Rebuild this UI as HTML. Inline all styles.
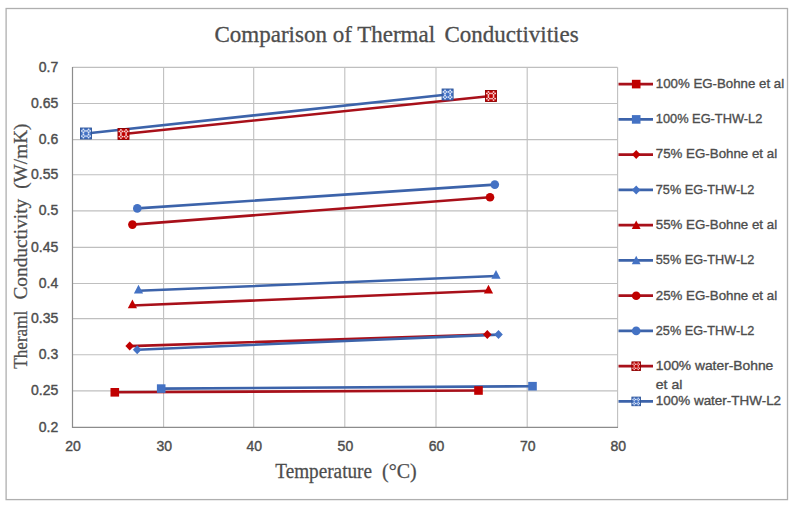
<!DOCTYPE html>
<html><head><meta charset="utf-8"><style>
html,body{margin:0;padding:0;background:#fff;width:797px;height:508px;overflow:hidden;position:relative}
</style></head><body>
<svg width="797" height="508" viewBox="0 0 797 508" style="position:absolute;left:0;top:0">
<rect x="6.1" y="8.5" width="781.4" height="491.1" fill="none" stroke="#AFAFAF" stroke-width="1.3"/>
<line x1="72.5" y1="67.40" x2="617.5" y2="67.40" stroke="#BFBFBF" stroke-width="1.1"/>
<line x1="72.5" y1="103.50" x2="617.5" y2="103.50" stroke="#BFBFBF" stroke-width="1.1"/>
<line x1="72.5" y1="139.60" x2="617.5" y2="139.60" stroke="#BFBFBF" stroke-width="1.1"/>
<line x1="72.5" y1="174.80" x2="617.5" y2="174.80" stroke="#BFBFBF" stroke-width="1.1"/>
<line x1="72.5" y1="210.90" x2="617.5" y2="210.90" stroke="#BFBFBF" stroke-width="1.1"/>
<line x1="72.5" y1="247.40" x2="617.5" y2="247.40" stroke="#BFBFBF" stroke-width="1.1"/>
<line x1="72.5" y1="283.50" x2="617.5" y2="283.50" stroke="#BFBFBF" stroke-width="1.1"/>
<line x1="72.5" y1="318.60" x2="617.5" y2="318.60" stroke="#BFBFBF" stroke-width="1.1"/>
<line x1="72.5" y1="354.70" x2="617.5" y2="354.70" stroke="#BFBFBF" stroke-width="1.1"/>
<line x1="72.5" y1="390.90" x2="617.5" y2="390.90" stroke="#BFBFBF" stroke-width="1.1"/>
<line x1="163.6" y1="67.3" x2="163.6" y2="427.4" stroke="#BFBFBF" stroke-width="1.1"/>
<line x1="253.7" y1="67.3" x2="253.7" y2="427.4" stroke="#BFBFBF" stroke-width="1.1"/>
<line x1="344.8" y1="67.3" x2="344.8" y2="427.4" stroke="#BFBFBF" stroke-width="1.1"/>
<line x1="436" y1="67.3" x2="436" y2="427.4" stroke="#BFBFBF" stroke-width="1.1"/>
<line x1="527.2" y1="67.3" x2="527.2" y2="427.4" stroke="#BFBFBF" stroke-width="1.1"/>
<line x1="617.6" y1="67.3" x2="617.6" y2="427.4" stroke="#BFBFBF" stroke-width="1.1"/>
<line x1="72.5" y1="67" x2="72.5" y2="428" stroke="#8C8C8C" stroke-width="1.2"/>
<line x1="72" y1="427.4" x2="618" y2="427.4" stroke="#8C8C8C" stroke-width="1.2"/>
<line x1="114.8" y1="392.3" x2="478.5" y2="390.5" stroke="#A8101A" stroke-width="2.6" stroke-linecap="round"/>
<line x1="161.2" y1="388.6" x2="532.5" y2="386.2" stroke="#3C63AA" stroke-width="2.6" stroke-linecap="round"/>
<line x1="129.7" y1="346.1" x2="487.3" y2="334.6" stroke="#A8101A" stroke-width="2.6" stroke-linecap="round"/>
<line x1="137.2" y1="349.7" x2="498.5" y2="334.6" stroke="#3C63AA" stroke-width="2.6" stroke-linecap="round"/>
<line x1="132.4" y1="305.5" x2="488.5" y2="290.8" stroke="#A8101A" stroke-width="2.6" stroke-linecap="round"/>
<line x1="138.5" y1="290.8" x2="496" y2="276" stroke="#3C63AA" stroke-width="2.6" stroke-linecap="round"/>
<line x1="132.4" y1="224.6" x2="490" y2="197.2" stroke="#A8101A" stroke-width="2.6" stroke-linecap="round"/>
<line x1="137.3" y1="208.4" x2="494.8" y2="184.6" stroke="#3C63AA" stroke-width="2.6" stroke-linecap="round"/>
<line x1="123.5" y1="134" x2="491" y2="96" stroke="#A8101A" stroke-width="2.6" stroke-linecap="round"/>
<line x1="86" y1="133.5" x2="447.6" y2="94.5" stroke="#3C63AA" stroke-width="2.6" stroke-linecap="round"/>
<rect x="110.5" y="388.0" width="8.6" height="8.6" fill="#C00000"/>
<rect x="474.2" y="386.2" width="8.6" height="8.6" fill="#C00000"/>
<rect x="156.9" y="384.3" width="8.6" height="8.6" fill="#4472C4"/>
<rect x="528.2" y="381.9" width="8.6" height="8.6" fill="#4472C4"/>
<polygon points="129.7,341.6 134.0,346.1 129.7,350.6 125.4,346.1" fill="#C00000"/>
<polygon points="487.3,330.1 491.6,334.6 487.3,339.1 483.0,334.6" fill="#C00000"/>
<polygon points="137.2,345.2 141.5,349.7 137.2,354.2 132.9,349.7" fill="#4472C4"/>
<polygon points="498.5,330.1 502.8,334.6 498.5,339.1 494.2,334.6" fill="#4472C4"/>
<polygon points="132.4,299.5 137.0,308.3 127.8,308.3" fill="#C00000"/>
<polygon points="488.5,284.8 493.1,293.6 483.9,293.6" fill="#C00000"/>
<polygon points="138.5,284.8 143.1,293.6 133.9,293.6" fill="#4472C4"/>
<polygon points="496.0,270.0 500.6,278.8 491.4,278.8" fill="#4472C4"/>
<circle cx="132.4" cy="224.6" r="4.3" fill="#C00000"/>
<circle cx="490.0" cy="197.2" r="4.3" fill="#C00000"/>
<circle cx="137.3" cy="208.4" r="4.3" fill="#4472C4"/>
<circle cx="494.8" cy="184.6" r="4.3" fill="#4472C4"/>
<rect x="118.0" y="128.5" width="11" height="11" fill="#C00000" stroke="#8E0000" stroke-width="0.9"/><circle cx="122.46" cy="131.41" r="0.94" fill="#F6D2D2"/><circle cx="119.38" cy="131.41" r="0.94" fill="#F6D2D2"/><circle cx="120.92" cy="132.95" r="0.94" fill="#F6D2D2"/><circle cx="120.92" cy="129.88" r="0.94" fill="#F6D2D2"/><circle cx="122.46" cy="136.59" r="0.94" fill="#F6D2D2"/><circle cx="119.38" cy="136.59" r="0.94" fill="#F6D2D2"/><circle cx="120.92" cy="138.12" r="0.94" fill="#F6D2D2"/><circle cx="120.92" cy="135.05" r="0.94" fill="#F6D2D2"/><circle cx="127.62" cy="131.41" r="0.94" fill="#F6D2D2"/><circle cx="124.54" cy="131.41" r="0.94" fill="#F6D2D2"/><circle cx="126.08" cy="132.95" r="0.94" fill="#F6D2D2"/><circle cx="126.08" cy="129.88" r="0.94" fill="#F6D2D2"/><circle cx="127.62" cy="136.59" r="0.94" fill="#F6D2D2"/><circle cx="124.54" cy="136.59" r="0.94" fill="#F6D2D2"/><circle cx="126.08" cy="138.12" r="0.94" fill="#F6D2D2"/><circle cx="126.08" cy="135.05" r="0.94" fill="#F6D2D2"/>
<rect x="485.5" y="90.5" width="11" height="11" fill="#C00000" stroke="#8E0000" stroke-width="0.9"/><circle cx="489.96" cy="93.42" r="0.94" fill="#F6D2D2"/><circle cx="486.88" cy="93.42" r="0.94" fill="#F6D2D2"/><circle cx="488.42" cy="94.96" r="0.94" fill="#F6D2D2"/><circle cx="488.42" cy="91.88" r="0.94" fill="#F6D2D2"/><circle cx="489.96" cy="98.58" r="0.94" fill="#F6D2D2"/><circle cx="486.88" cy="98.58" r="0.94" fill="#F6D2D2"/><circle cx="488.42" cy="100.12" r="0.94" fill="#F6D2D2"/><circle cx="488.42" cy="97.04" r="0.94" fill="#F6D2D2"/><circle cx="495.12" cy="93.42" r="0.94" fill="#F6D2D2"/><circle cx="492.04" cy="93.42" r="0.94" fill="#F6D2D2"/><circle cx="493.58" cy="94.96" r="0.94" fill="#F6D2D2"/><circle cx="493.58" cy="91.88" r="0.94" fill="#F6D2D2"/><circle cx="495.12" cy="98.58" r="0.94" fill="#F6D2D2"/><circle cx="492.04" cy="98.58" r="0.94" fill="#F6D2D2"/><circle cx="493.58" cy="100.12" r="0.94" fill="#F6D2D2"/><circle cx="493.58" cy="97.04" r="0.94" fill="#F6D2D2"/>
<rect x="80.5" y="128.0" width="11" height="11" fill="#4472C4" stroke="#2F5597" stroke-width="0.9"/><circle cx="84.96" cy="130.91" r="0.94" fill="#DCE6F6"/><circle cx="81.88" cy="130.91" r="0.94" fill="#DCE6F6"/><circle cx="83.42" cy="132.45" r="0.94" fill="#DCE6F6"/><circle cx="83.42" cy="129.38" r="0.94" fill="#DCE6F6"/><circle cx="84.96" cy="136.09" r="0.94" fill="#DCE6F6"/><circle cx="81.88" cy="136.09" r="0.94" fill="#DCE6F6"/><circle cx="83.42" cy="137.62" r="0.94" fill="#DCE6F6"/><circle cx="83.42" cy="134.55" r="0.94" fill="#DCE6F6"/><circle cx="90.12" cy="130.91" r="0.94" fill="#DCE6F6"/><circle cx="87.04" cy="130.91" r="0.94" fill="#DCE6F6"/><circle cx="88.58" cy="132.45" r="0.94" fill="#DCE6F6"/><circle cx="88.58" cy="129.38" r="0.94" fill="#DCE6F6"/><circle cx="90.12" cy="136.09" r="0.94" fill="#DCE6F6"/><circle cx="87.04" cy="136.09" r="0.94" fill="#DCE6F6"/><circle cx="88.58" cy="137.62" r="0.94" fill="#DCE6F6"/><circle cx="88.58" cy="134.55" r="0.94" fill="#DCE6F6"/>
<rect x="442.1" y="89.0" width="11" height="11" fill="#4472C4" stroke="#2F5597" stroke-width="0.9"/><circle cx="446.56" cy="91.92" r="0.94" fill="#DCE6F6"/><circle cx="443.48" cy="91.92" r="0.94" fill="#DCE6F6"/><circle cx="445.02" cy="93.46" r="0.94" fill="#DCE6F6"/><circle cx="445.02" cy="90.38" r="0.94" fill="#DCE6F6"/><circle cx="446.56" cy="97.08" r="0.94" fill="#DCE6F6"/><circle cx="443.48" cy="97.08" r="0.94" fill="#DCE6F6"/><circle cx="445.02" cy="98.62" r="0.94" fill="#DCE6F6"/><circle cx="445.02" cy="95.54" r="0.94" fill="#DCE6F6"/><circle cx="451.73" cy="91.92" r="0.94" fill="#DCE6F6"/><circle cx="448.64" cy="91.92" r="0.94" fill="#DCE6F6"/><circle cx="450.19" cy="93.46" r="0.94" fill="#DCE6F6"/><circle cx="450.19" cy="90.38" r="0.94" fill="#DCE6F6"/><circle cx="451.73" cy="97.08" r="0.94" fill="#DCE6F6"/><circle cx="448.64" cy="97.08" r="0.94" fill="#DCE6F6"/><circle cx="450.19" cy="98.62" r="0.94" fill="#DCE6F6"/><circle cx="450.19" cy="95.54" r="0.94" fill="#DCE6F6"/>
<line x1="618.5" y1="84.1" x2="653" y2="84.1" stroke="#A8101A" stroke-width="2.8"/>
<rect x="631.9" y="79.8" width="8.6" height="8.6" fill="#C00000"/>
<line x1="618.5" y1="119.4" x2="653" y2="119.4" stroke="#3C63AA" stroke-width="2.8"/>
<rect x="631.9" y="115.1" width="8.6" height="8.6" fill="#4472C4"/>
<line x1="618.5" y1="154.6" x2="653" y2="154.6" stroke="#A8101A" stroke-width="2.8"/>
<polygon points="636.2,150.1 640.5,154.6 636.2,159.1 631.9,154.6" fill="#C00000"/>
<line x1="618.5" y1="189.9" x2="653" y2="189.9" stroke="#3C63AA" stroke-width="2.8"/>
<polygon points="636.2,185.4 640.5,189.9 636.2,194.4 631.9,189.9" fill="#4472C4"/>
<line x1="618.5" y1="225.1" x2="653" y2="225.1" stroke="#A8101A" stroke-width="2.8"/>
<polygon points="636.2,220.4 640.6,229.0 631.8,229.0" fill="#C00000"/>
<line x1="618.5" y1="260.4" x2="653" y2="260.4" stroke="#3C63AA" stroke-width="2.8"/>
<polygon points="636.2,255.7 640.6,264.3 631.8,264.3" fill="#4472C4"/>
<line x1="618.5" y1="295.7" x2="653" y2="295.7" stroke="#A8101A" stroke-width="2.8"/>
<circle cx="636.2" cy="295.7" r="4.3" fill="#C00000"/>
<line x1="618.5" y1="330.9" x2="653" y2="330.9" stroke="#3C63AA" stroke-width="2.8"/>
<circle cx="636.2" cy="330.9" r="4.3" fill="#4472C4"/>
<line x1="618.5" y1="366.2" x2="653" y2="366.2" stroke="#A8101A" stroke-width="2.8"/>
<rect x="631.9" y="361.9" width="8.6" height="8.6" fill="#C00000" stroke="#8E0000" stroke-width="0.9"/><circle cx="635.38" cy="364.16" r="0.73" fill="#F6D2D2"/><circle cx="632.98" cy="364.16" r="0.73" fill="#F6D2D2"/><circle cx="634.18" cy="365.36" r="0.73" fill="#F6D2D2"/><circle cx="634.18" cy="362.95" r="0.73" fill="#F6D2D2"/><circle cx="635.38" cy="368.20" r="0.73" fill="#F6D2D2"/><circle cx="632.98" cy="368.20" r="0.73" fill="#F6D2D2"/><circle cx="634.18" cy="369.40" r="0.73" fill="#F6D2D2"/><circle cx="634.18" cy="367.00" r="0.73" fill="#F6D2D2"/><circle cx="639.42" cy="364.16" r="0.73" fill="#F6D2D2"/><circle cx="637.02" cy="364.16" r="0.73" fill="#F6D2D2"/><circle cx="638.22" cy="365.36" r="0.73" fill="#F6D2D2"/><circle cx="638.22" cy="362.95" r="0.73" fill="#F6D2D2"/><circle cx="639.42" cy="368.20" r="0.73" fill="#F6D2D2"/><circle cx="637.02" cy="368.20" r="0.73" fill="#F6D2D2"/><circle cx="638.22" cy="369.40" r="0.73" fill="#F6D2D2"/><circle cx="638.22" cy="367.00" r="0.73" fill="#F6D2D2"/>
<line x1="618.5" y1="401.4" x2="653" y2="401.4" stroke="#3C63AA" stroke-width="2.8"/>
<rect x="631.9" y="397.1" width="8.6" height="8.6" fill="#4472C4" stroke="#2F5597" stroke-width="0.9"/><circle cx="635.38" cy="399.42" r="0.73" fill="#DCE6F6"/><circle cx="632.98" cy="399.42" r="0.73" fill="#DCE6F6"/><circle cx="634.18" cy="400.62" r="0.73" fill="#DCE6F6"/><circle cx="634.18" cy="398.21" r="0.73" fill="#DCE6F6"/><circle cx="635.38" cy="403.46" r="0.73" fill="#DCE6F6"/><circle cx="632.98" cy="403.46" r="0.73" fill="#DCE6F6"/><circle cx="634.18" cy="404.66" r="0.73" fill="#DCE6F6"/><circle cx="634.18" cy="402.26" r="0.73" fill="#DCE6F6"/><circle cx="639.42" cy="399.42" r="0.73" fill="#DCE6F6"/><circle cx="637.02" cy="399.42" r="0.73" fill="#DCE6F6"/><circle cx="638.22" cy="400.62" r="0.73" fill="#DCE6F6"/><circle cx="638.22" cy="398.21" r="0.73" fill="#DCE6F6"/><circle cx="639.42" cy="403.46" r="0.73" fill="#DCE6F6"/><circle cx="637.02" cy="403.46" r="0.73" fill="#DCE6F6"/><circle cx="638.22" cy="404.66" r="0.73" fill="#DCE6F6"/><circle cx="638.22" cy="402.26" r="0.73" fill="#DCE6F6"/>
<text x="58.3" y="71.8" text-anchor="end" font-family="Liberation Sans" font-size="14" fill="#4D4D4D" stroke="#4D4D4D" stroke-width="0.4">0.7</text>
<text x="58.3" y="107.9" text-anchor="end" font-family="Liberation Sans" font-size="14" fill="#4D4D4D" stroke="#4D4D4D" stroke-width="0.4">0.65</text>
<text x="58.3" y="144.0" text-anchor="end" font-family="Liberation Sans" font-size="14" fill="#4D4D4D" stroke="#4D4D4D" stroke-width="0.4">0.6</text>
<text x="58.3" y="179.2" text-anchor="end" font-family="Liberation Sans" font-size="14" fill="#4D4D4D" stroke="#4D4D4D" stroke-width="0.4">0.55</text>
<text x="58.3" y="215.3" text-anchor="end" font-family="Liberation Sans" font-size="14" fill="#4D4D4D" stroke="#4D4D4D" stroke-width="0.4">0.5</text>
<text x="58.3" y="251.8" text-anchor="end" font-family="Liberation Sans" font-size="14" fill="#4D4D4D" stroke="#4D4D4D" stroke-width="0.4">0.45</text>
<text x="58.3" y="287.9" text-anchor="end" font-family="Liberation Sans" font-size="14" fill="#4D4D4D" stroke="#4D4D4D" stroke-width="0.4">0.4</text>
<text x="58.3" y="323.0" text-anchor="end" font-family="Liberation Sans" font-size="14" fill="#4D4D4D" stroke="#4D4D4D" stroke-width="0.4">0.35</text>
<text x="58.3" y="359.1" text-anchor="end" font-family="Liberation Sans" font-size="14" fill="#4D4D4D" stroke="#4D4D4D" stroke-width="0.4">0.3</text>
<text x="58.3" y="395.3" text-anchor="end" font-family="Liberation Sans" font-size="14" fill="#4D4D4D" stroke="#4D4D4D" stroke-width="0.4">0.25</text>
<text x="58.3" y="431.8" text-anchor="end" font-family="Liberation Sans" font-size="14" fill="#4D4D4D" stroke="#4D4D4D" stroke-width="0.4">0.2</text>
<text x="73.0" y="450.6" text-anchor="middle" font-family="Liberation Sans" font-size="14" fill="#4D4D4D" stroke="#4D4D4D" stroke-width="0.4">20</text>
<text x="164.2" y="450.6" text-anchor="middle" font-family="Liberation Sans" font-size="14" fill="#4D4D4D" stroke="#4D4D4D" stroke-width="0.4">30</text>
<text x="254.3" y="450.6" text-anchor="middle" font-family="Liberation Sans" font-size="14" fill="#4D4D4D" stroke="#4D4D4D" stroke-width="0.4">40</text>
<text x="345.4" y="450.6" text-anchor="middle" font-family="Liberation Sans" font-size="14" fill="#4D4D4D" stroke="#4D4D4D" stroke-width="0.4">50</text>
<text x="436.6" y="450.6" text-anchor="middle" font-family="Liberation Sans" font-size="14" fill="#4D4D4D" stroke="#4D4D4D" stroke-width="0.4">60</text>
<text x="527.8" y="450.6" text-anchor="middle" font-family="Liberation Sans" font-size="14" fill="#4D4D4D" stroke="#4D4D4D" stroke-width="0.4">70</text>
<text x="618.2" y="450.6" text-anchor="middle" font-family="Liberation Sans" font-size="14" fill="#4D4D4D" stroke="#4D4D4D" stroke-width="0.4">80</text>
<text x="655.8" y="88.1" font-family="Liberation Sans" font-size="13.4" fill="#4D4D4D" stroke="#4D4D4D" stroke-width="0.35" textLength="128.3" lengthAdjust="spacingAndGlyphs">100% EG-Bohne et al</text>
<text x="655.8" y="123.2" font-family="Liberation Sans" font-size="13.4" fill="#4D4D4D" stroke="#4D4D4D" stroke-width="0.35" textLength="106.5" lengthAdjust="spacingAndGlyphs">100% EG-THW-L2</text>
<text x="655.8" y="158.2" font-family="Liberation Sans" font-size="13.4" fill="#4D4D4D" stroke="#4D4D4D" stroke-width="0.35" textLength="121.3" lengthAdjust="spacingAndGlyphs">75% EG-Bohne et al</text>
<text x="655.8" y="194.1" font-family="Liberation Sans" font-size="13.4" fill="#4D4D4D" stroke="#4D4D4D" stroke-width="0.35" textLength="98.5" lengthAdjust="spacingAndGlyphs">75% EG-THW-L2</text>
<text x="655.8" y="229.3" font-family="Liberation Sans" font-size="13.4" fill="#4D4D4D" stroke="#4D4D4D" stroke-width="0.35" textLength="121.3" lengthAdjust="spacingAndGlyphs">55% EG-Bohne et al</text>
<text x="655.8" y="264.4" font-family="Liberation Sans" font-size="13.4" fill="#4D4D4D" stroke="#4D4D4D" stroke-width="0.35" textLength="98.5" lengthAdjust="spacingAndGlyphs">55% EG-THW-L2</text>
<text x="655.8" y="299.5" font-family="Liberation Sans" font-size="13.4" fill="#4D4D4D" stroke="#4D4D4D" stroke-width="0.35" textLength="121.3" lengthAdjust="spacingAndGlyphs">25% EG-Bohne et al</text>
<text x="655.8" y="335.2" font-family="Liberation Sans" font-size="13.4" fill="#4D4D4D" stroke="#4D4D4D" stroke-width="0.35" textLength="98.5" lengthAdjust="spacingAndGlyphs">25% EG-THW-L2</text>
<text x="655.8" y="370.2" font-family="Liberation Sans" font-size="13.4" fill="#4D4D4D" stroke="#4D4D4D" stroke-width="0.35" textLength="117.5" lengthAdjust="spacingAndGlyphs">100% water-Bohne</text>
<text x="655.8" y="388.7" font-family="Liberation Sans" font-size="13.4" fill="#4D4D4D" stroke="#4D4D4D" stroke-width="0.35" textLength="26.5" lengthAdjust="spacingAndGlyphs">et al</text>
<text x="655.8" y="405.3" font-family="Liberation Sans" font-size="13.4" fill="#4D4D4D" stroke="#4D4D4D" stroke-width="0.35" textLength="125.3" lengthAdjust="spacingAndGlyphs">100% water-THW-L2</text>
<text x="214.5" y="42.2" font-family="Liberation Serif" font-size="23" fill="#4D4D4D" stroke="#4D4D4D" stroke-width="0.3">Comparison of Thermal</text>
<text x="444.5" y="42.2" font-family="Liberation Serif" font-size="23" fill="#4D4D4D" stroke="#4D4D4D" stroke-width="0.3">Conductivities</text>
<text x="275.3" y="478.4" font-family="Liberation Serif" font-size="20" fill="#4D4D4D" stroke="#4D4D4D" stroke-width="0.25" transform="translate(275 0) scale(0.96 1) translate(-275 0)">Temperature</text>
<text x="382" y="478.4" font-family="Liberation Serif" font-size="20" fill="#4D4D4D" stroke="#4D4D4D" stroke-width="0.25">(°C)</text>
<g transform="translate(26.5 0) rotate(-90)"><text x="-409.6" y="0" font-family="Liberation Serif" font-size="19" fill="#4D4D4D" stroke="#4D4D4D" stroke-width="0.25" transform="scale(0.9 1)">Theraml</text></g>
<g transform="translate(26.5 0) rotate(-90)"><text x="-299.5" y="0" font-family="Liberation Serif" font-size="19.3" fill="#4D4D4D" stroke="#4D4D4D" stroke-width="0.25">Conductivity</text></g>
<g transform="translate(26.5 0) rotate(-90)"><text x="-188.8" y="0" font-family="Liberation Serif" font-size="19.3" fill="#4D4D4D" stroke="#4D4D4D" stroke-width="0.25">(W/mK)</text></g>
</svg>
</body></html>
